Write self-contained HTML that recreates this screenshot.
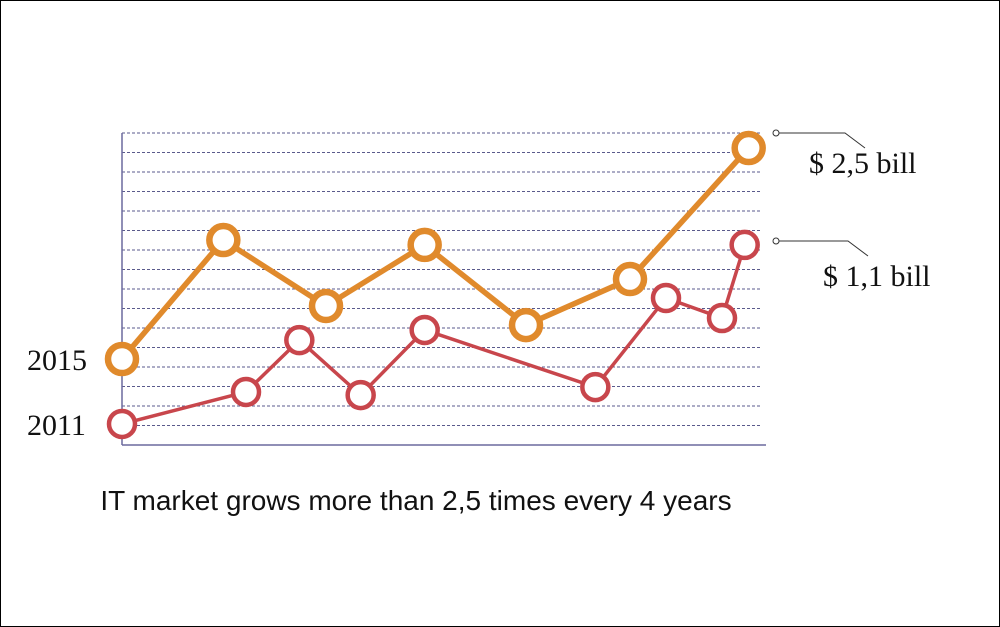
<!DOCTYPE html>
<html><head><meta charset="utf-8"><style>
html,body{margin:0;padding:0;background:#fff}
#wrap{width:998px;height:625px;border:1px solid #000;position:relative;overflow:hidden}
svg{position:absolute;left:-1px;top:-1px}
</style></head><body>
<div id="wrap">
<svg id="chart" width="1000" height="627">
<g id="grid"></g>
<line x1="122" y1="133" x2="122" y2="445" stroke="#6b6a9e" stroke-width="1.5"/>
<line x1="122" y1="445" x2="766" y2="445" stroke="#6b6a9e" stroke-width="1.5"/>
<g id="series"></g>
<text x="27" y="370" font-family="Liberation Serif, serif" font-size="30" fill="#111">2015</text>
<text x="27" y="435" font-family="Liberation Serif, serif" font-size="30" fill="#111">2011</text>
<g>
<circle cx="776" cy="133" r="3" fill="#fff" stroke="#333" stroke-width="1"/>
<polyline points="779,133 845,133 865,148" fill="none" stroke="#333" stroke-width="1"/>
<text x="809" y="173" font-family="Liberation Serif, serif" font-size="30" fill="#111">$ 2,5 bill</text>
</g>
<g>
<circle cx="776" cy="241" r="3" fill="#fff" stroke="#333" stroke-width="1"/>
<polyline points="779,241 848,241 868,256" fill="none" stroke="#333" stroke-width="1"/>
<text x="823" y="286" font-family="Liberation Serif, serif" font-size="30" fill="#111">$ 1,1 bill</text>
</g>
<text x="416" y="510" text-anchor="middle" font-family="Liberation Sans, sans-serif" font-size="28" fill="#111">IT market grows more than 2,5 times every 4 years</text>
</svg>
</div>
<script>
const gridLevels = [1,2,3,4,5,6,7,8,9,10,11,12,13,14,15,16];
const orangeX = [0, 7.6, 15.3, 22.7, 30.3, 38.1, 47.0];
const orangeY = [4.41, 10.51, 7.13, 10.26, 6.15, 8.51, 15.23];
const redX = [0, 9.3, 13.3, 17.9, 22.7, 35.5, 40.8, 45.0, 46.7];
const redY = [1.08, 2.72, 5.38, 2.56, 5.9, 2.97, 7.54, 6.51, 10.26];

const NS = "http://www.w3.org/2000/svg";
const xs = v => 122 + v * (640 / 48);
const ys = v => 445 - v * 19.5;

const grid = document.getElementById('grid');
gridLevels.forEach(k => {
  const l = document.createElementNS(NS, 'line');
  
  
  l.setAttribute('x1', 122); l.setAttribute('x2', 762);
  l.setAttribute('y1', ys(k)); l.setAttribute('y2', ys(k));
  l.setAttribute('stroke', '#5a5a8c'); l.setAttribute('stroke-width', '1');
  l.setAttribute('stroke-dasharray', '3,2');
  grid.appendChild(l);
});

function drawSeries(X, Y, color, lw, r, name) {
  const g = document.createElementNS(NS, 'g');
  
  
  const p = document.createElementNS(NS, 'polyline');
  
  
  p.setAttribute('points', X.map((x, i) => xs(x) + ',' + ys(Y[i])).join(' '));
  p.setAttribute('fill', 'none'); p.setAttribute('stroke', color);
  p.setAttribute('stroke-width', lw); p.setAttribute('stroke-linejoin', 'round');
  g.appendChild(p);
  X.forEach((x, i) => {
    const c = document.createElementNS(NS, 'circle');
    
    
    c.setAttribute('cx', xs(x)); c.setAttribute('cy', ys(Y[i])); c.setAttribute('r', r);
    c.setAttribute('fill', '#fff'); c.setAttribute('stroke', color);
    c.setAttribute('stroke-width', lw + 1);
    g.appendChild(c);
  });
  document.getElementById('series').appendChild(g);
}
drawSeries(redX, redY, '#c8464c', 3.5, 13, 'series-2011');
drawSeries(orangeX, orangeY, '#e08a2c', 5.5, 14, 'series-2015');
</script>
</body></html>
